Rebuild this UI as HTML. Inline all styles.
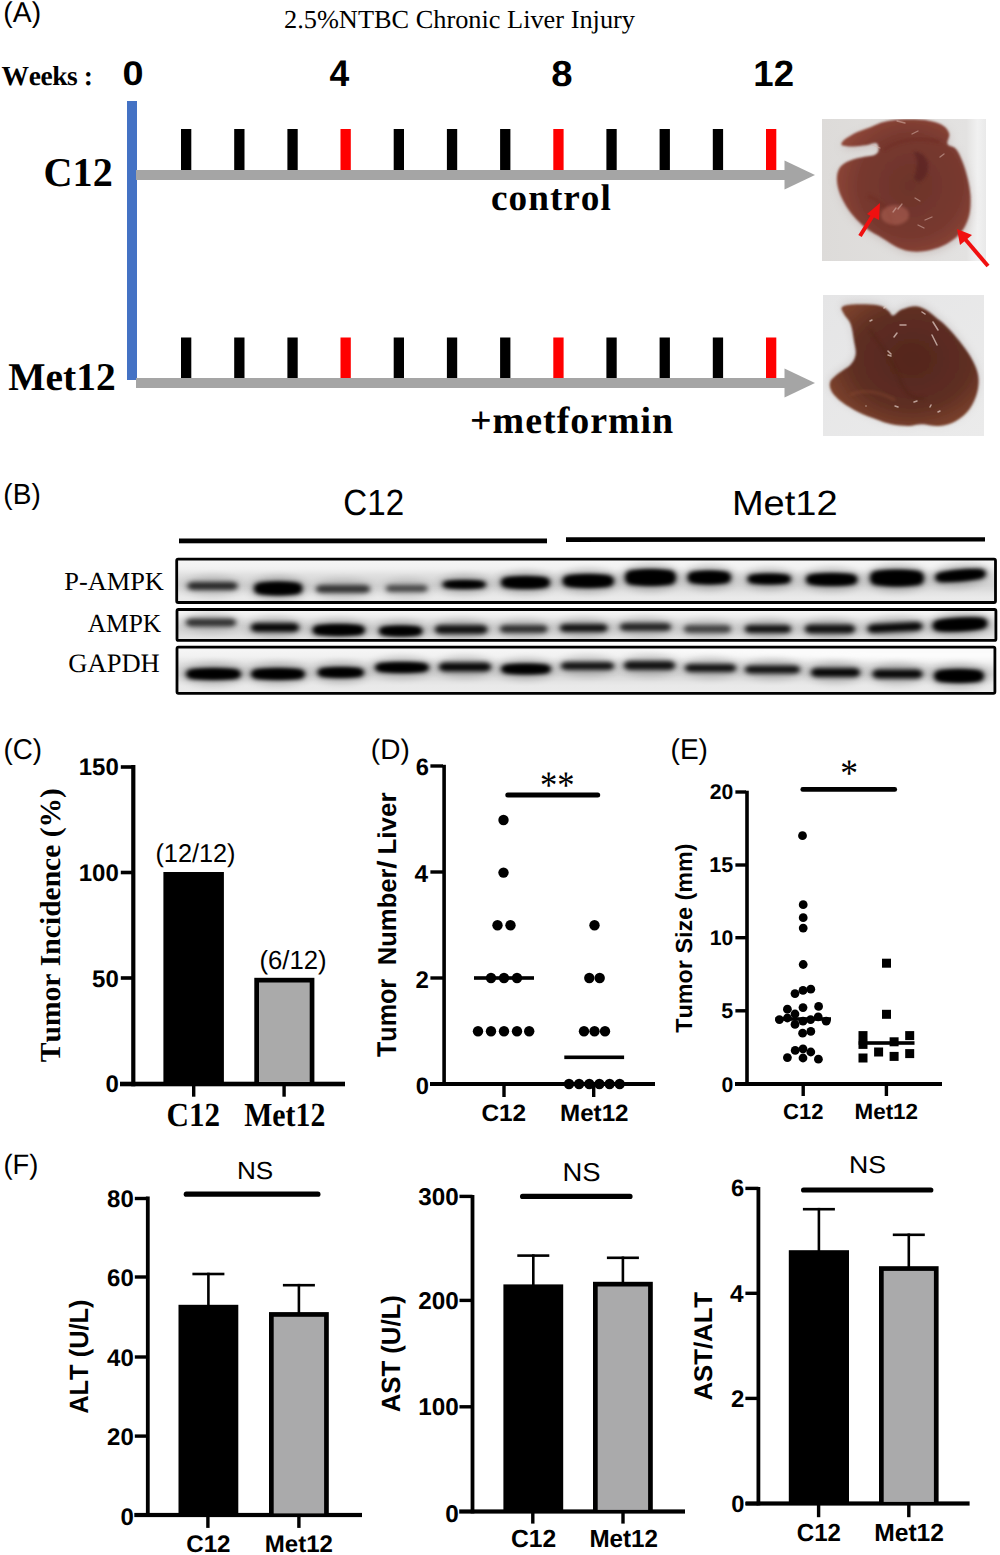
<!DOCTYPE html>
<html><head><meta charset="utf-8"><style>
html,body{margin:0;padding:0;background:#fff;width:1000px;height:1555px;overflow:hidden}
svg{display:block}
text{font-kerning:none;text-rendering:geometricPrecision}
</style></head><body>
<svg width="1000" height="1555" viewBox="0 0 1000 1555">
<defs>
<filter id="soft" x="-10%" y="-10%" width="120%" height="120%"><feGaussianBlur stdDeviation="1.2"/></filter>
<filter id="blur3" x="-50%" y="-50%" width="200%" height="200%"><feGaussianBlur stdDeviation="3"/></filter>
<filter id="band" x="-30%" y="-100%" width="160%" height="300%"><feGaussianBlur stdDeviation="2.4 2"/></filter>
<filter id="band2" x="-30%" y="-100%" width="160%" height="300%"><feGaussianBlur stdDeviation="5 3.5"/></filter>
</defs>
<rect width="1000" height="1555" fill="#fff"/>
<text transform="translate(3.35,21.97) scale(0.9871,1)" style="font-family:'Liberation Sans', sans-serif;font-weight:normal;font-size:28.66px" fill="#000">(A)</text>
<text transform="translate(284.04,27.50) scale(1.0143,1)" style="font-family:'Liberation Serif', serif;font-weight:normal;font-size:25.96px" fill="#000">2.5%NTBC Chronic Liver Injury</text>
<text transform="translate(1.61,84.50) scale(1.0000,1)" style="font-family:'Liberation Serif', serif;font-weight:bold;font-size:27.49px" fill="#000" letter-spacing="-0.427">Weeks :</text>
<text transform="translate(122.50,84.67) scale(1.1165,1)" style="font-family:'Liberation Sans', sans-serif;font-weight:bold;font-size:33.90px" fill="#000">0</text>
<text transform="translate(329.46,85.50) scale(0.9570,1)" style="font-family:'Liberation Sans', sans-serif;font-weight:bold;font-size:37.06px" fill="#000">4</text>
<text transform="translate(551.28,85.65) scale(1.0630,1)" style="font-family:'Liberation Sans', sans-serif;font-weight:bold;font-size:36.02px" fill="#000">8</text>
<text transform="translate(753.30,86.00) scale(1.0011,1)" style="font-family:'Liberation Sans', sans-serif;font-weight:bold;font-size:36.52px" fill="#000">12</text>
<rect x="127" y="101" width="10" height="279" fill="#4472c4"/>
<rect x="136" y="170" width="650" height="10" fill="#a5a5a5"/>
<polygon points="784.5,160.5 815,175 784.5,189.5" fill="#a5a5a5"/>
<rect x="181.0" y="129" width="10.3" height="41" fill="#000"/>
<rect x="234.2" y="129" width="10.3" height="41" fill="#000"/>
<rect x="287.4" y="129" width="10.3" height="41" fill="#000"/>
<rect x="340.5" y="129" width="10.3" height="41" fill="#ff0000"/>
<rect x="393.7" y="129" width="10.3" height="41" fill="#000"/>
<rect x="446.9" y="129" width="10.3" height="41" fill="#000"/>
<rect x="500.1" y="129" width="10.3" height="41" fill="#000"/>
<rect x="553.3" y="129" width="10.3" height="41" fill="#ff0000"/>
<rect x="606.4" y="129" width="10.3" height="41" fill="#000"/>
<rect x="659.6" y="129" width="10.3" height="41" fill="#000"/>
<rect x="712.8" y="129" width="10.3" height="41" fill="#000"/>
<rect x="766.0" y="129" width="10.3" height="41" fill="#ff0000"/>
<rect x="136" y="378" width="650" height="10" fill="#a5a5a5"/>
<polygon points="784.5,368.5 815,383 784.5,397.5" fill="#a5a5a5"/>
<rect x="181.0" y="337.5" width="10.3" height="40.5" fill="#000"/>
<rect x="234.2" y="337.5" width="10.3" height="40.5" fill="#000"/>
<rect x="287.4" y="337.5" width="10.3" height="40.5" fill="#000"/>
<rect x="340.5" y="337.5" width="10.3" height="40.5" fill="#ff0000"/>
<rect x="393.7" y="337.5" width="10.3" height="40.5" fill="#000"/>
<rect x="446.9" y="337.5" width="10.3" height="40.5" fill="#000"/>
<rect x="500.1" y="337.5" width="10.3" height="40.5" fill="#000"/>
<rect x="553.3" y="337.5" width="10.3" height="40.5" fill="#ff0000"/>
<rect x="606.4" y="337.5" width="10.3" height="40.5" fill="#000"/>
<rect x="659.6" y="337.5" width="10.3" height="40.5" fill="#000"/>
<rect x="712.8" y="337.5" width="10.3" height="40.5" fill="#000"/>
<rect x="766.0" y="337.5" width="10.3" height="40.5" fill="#ff0000"/>
<text transform="translate(43.54,185.50) scale(0.9852,1)" style="font-family:'Liberation Serif', serif;font-weight:bold;font-size:40.78px" fill="#000">C12</text>
<text transform="translate(8.33,389.50) scale(1.0035,1)" style="font-family:'Liberation Serif', serif;font-weight:bold;font-size:39.33px" fill="#000">Met12</text>
<text transform="translate(491.03,210.34) scale(1.0000,1)" style="font-family:'Liberation Serif', serif;font-weight:bold;font-size:37.24px" fill="#000" letter-spacing="1.011">control</text>
<text transform="translate(470.00,433.33) scale(1.0000,1)" style="font-family:'Liberation Serif', serif;font-weight:bold;font-size:37.96px" fill="#000" letter-spacing="0.975">+metformin</text>
<defs>
<radialGradient id="lg1" cx="0.55" cy="0.5" r="0.6"><stop offset="0" stop-color="#6c332b"/><stop offset="0.65" stop-color="#78392f"/><stop offset="1" stop-color="#904839"/></radialGradient>
<radialGradient id="lg2" cx="0.55" cy="0.45" r="0.6"><stop offset="0" stop-color="#54261e"/><stop offset="0.65" stop-color="#5e2e22"/><stop offset="1" stop-color="#7c422d"/></radialGradient>
<linearGradient id="pbg1" x1="0" y1="0" x2="1" y2="0"><stop offset="0" stop-color="#dddbd9"/><stop offset="0.88" stop-color="#e3e2e1"/><stop offset="0.95" stop-color="#f1f1f1"/><stop offset="1" stop-color="#e9e9e9"/></linearGradient>
<linearGradient id="pbg2" x1="0" y1="0" x2="1" y2="1"><stop offset="0" stop-color="#e5e5e6"/><stop offset="1" stop-color="#ebebeb"/></linearGradient>
<filter id="lb" x="-10%" y="-10%" width="120%" height="120%"><feGaussianBlur stdDeviation="0.9"/></filter>
<filter id="lb4" x="-20%" y="-20%" width="140%" height="140%"><feGaussianBlur stdDeviation="4"/></filter>
<filter id="lb2" x="-20%" y="-20%" width="140%" height="140%"><feGaussianBlur stdDeviation="1.6"/></filter>
<clipPath id="pc1"><rect x="822" y="119" width="164" height="142"/></clipPath>
<clipPath id="pc2"><rect x="823" y="295" width="161" height="141"/></clipPath>
</defs>
<rect x="822" y="119" width="164" height="142" fill="url(#pbg1)"/>
<g clip-path="url(#pc1)">
<path d="M841.3,144.2 C841.3,143.1 842.8,140.8 845.5,138.8 C848.2,136.8 853.2,134.0 857.4,132.0 C861.7,130.0 866.5,128.6 871.0,126.9 C875.5,125.2 878.9,123.1 884.6,121.8 C890.3,120.5 898.2,119.5 905.0,119.3 C911.8,119.0 919.2,119.1 925.4,120.1 C931.6,121.1 938.4,122.9 942.4,125.2 C946.4,127.5 948.4,130.6 949.2,133.7 C950.1,136.8 946.4,141.4 947.5,143.9 C948.6,146.5 953.5,145.9 956.0,149.0 C958.6,152.1 960.8,157.5 962.8,162.6 C964.8,167.7 966.6,173.9 967.9,179.6 C969.2,185.3 970.2,190.9 970.5,196.6 C970.7,202.3 970.6,208.5 969.6,213.6 C968.6,218.7 966.8,223.2 964.5,227.2 C962.2,231.2 959.7,234.3 956.0,237.4 C952.3,240.5 947.5,243.6 942.4,245.9 C937.3,248.2 931.1,250.2 925.4,251.0 C919.7,251.9 913.5,251.9 908.4,251.0 C903.3,250.2 899.3,248.2 894.8,245.9 C890.3,243.6 885.5,240.0 881.2,237.4 C877.0,234.9 873.0,233.2 869.3,230.6 C865.6,228.1 862.5,225.5 859.1,222.1 C855.7,218.7 852.0,214.7 848.9,210.2 C845.8,205.7 842.4,199.7 840.4,194.9 C838.4,190.1 837.3,185.6 837.0,181.3 C836.7,177.1 837.0,172.7 838.7,169.4 C840.4,166.1 843.5,163.7 847.2,161.8 C850.9,159.8 856.3,158.6 860.8,157.5 C865.3,156.4 871.4,156.2 874.4,155.0 C877.4,153.7 878.4,151.8 878.7,149.9 C878.9,147.9 878.2,143.8 876.1,143.1 C874.0,142.3 869.6,144.7 865.9,145.3 C862.2,145.8 857.4,146.3 854.0,146.5 C850.6,146.6 847.6,146.3 845.5,145.9 C843.4,145.6 841.3,145.4 841.3,144.2Z" fill="#b9a9a6" opacity="0.5" filter="url(#lb4)" transform="translate(1,3)"/>
<path d="M841.3,144.2 C841.3,143.1 842.8,140.8 845.5,138.8 C848.2,136.8 853.2,134.0 857.4,132.0 C861.7,130.0 866.5,128.6 871.0,126.9 C875.5,125.2 878.9,123.1 884.6,121.8 C890.3,120.5 898.2,119.5 905.0,119.3 C911.8,119.0 919.2,119.1 925.4,120.1 C931.6,121.1 938.4,122.9 942.4,125.2 C946.4,127.5 948.4,130.6 949.2,133.7 C950.1,136.8 946.4,141.4 947.5,143.9 C948.6,146.5 953.5,145.9 956.0,149.0 C958.6,152.1 960.8,157.5 962.8,162.6 C964.8,167.7 966.6,173.9 967.9,179.6 C969.2,185.3 970.2,190.9 970.5,196.6 C970.7,202.3 970.6,208.5 969.6,213.6 C968.6,218.7 966.8,223.2 964.5,227.2 C962.2,231.2 959.7,234.3 956.0,237.4 C952.3,240.5 947.5,243.6 942.4,245.9 C937.3,248.2 931.1,250.2 925.4,251.0 C919.7,251.9 913.5,251.9 908.4,251.0 C903.3,250.2 899.3,248.2 894.8,245.9 C890.3,243.6 885.5,240.0 881.2,237.4 C877.0,234.9 873.0,233.2 869.3,230.6 C865.6,228.1 862.5,225.5 859.1,222.1 C855.7,218.7 852.0,214.7 848.9,210.2 C845.8,205.7 842.4,199.7 840.4,194.9 C838.4,190.1 837.3,185.6 837.0,181.3 C836.7,177.1 837.0,172.7 838.7,169.4 C840.4,166.1 843.5,163.7 847.2,161.8 C850.9,159.8 856.3,158.6 860.8,157.5 C865.3,156.4 871.4,156.2 874.4,155.0 C877.4,153.7 878.4,151.8 878.7,149.9 C878.9,147.9 878.2,143.8 876.1,143.1 C874.0,142.3 869.6,144.7 865.9,145.3 C862.2,145.8 857.4,146.3 854.0,146.5 C850.6,146.6 847.6,146.3 845.5,145.9 C843.4,145.6 841.3,145.4 841.3,144.2Z" fill="url(#lg1)" filter="url(#lb)"/>
<path d="M913,152 C920,160 916,170 914,178 C918,186 926,180 928,170 C930,160 922,150 913,152Z" fill="#5a2320" opacity="0.7" filter="url(#lb2)"/>
<path d="M884,150 C896,140 920,136 940,142" stroke="#6e2a22" stroke-width="3" fill="none" opacity="0.6" filter="url(#lb2)"/>
<path d="M868,196 C880,200 890,210 892,225" stroke="#6e2a22" stroke-width="4" fill="none" opacity="0.5" filter="url(#lb2)"/>
<ellipse cx="895" cy="215" rx="14" ry="10" fill="#b7695a" opacity="0.5" filter="url(#lb2)"/>
<path d="M898,209 L902,204" stroke="#d9b5ad" stroke-width="1.3" stroke-linecap="round" opacity="0.55"/>
<path d="M893,212 L896,208" stroke="#d9b5ad" stroke-width="1.3" stroke-linecap="round" opacity="0.55"/>
<path d="M872,145 L880,148" stroke="#d9b5ad" stroke-width="1.3" stroke-linecap="round" opacity="0.55"/>
<path d="M915,198 L920,201" stroke="#d9b5ad" stroke-width="1.3" stroke-linecap="round" opacity="0.55"/>
<path d="M925,220 L932,217" stroke="#d9b5ad" stroke-width="1.3" stroke-linecap="round" opacity="0.55"/>
<path d="M918,225 L924,228" stroke="#d9b5ad" stroke-width="1.3" stroke-linecap="round" opacity="0.55"/>
<path d="M912,134 L918,131" stroke="#d9b5ad" stroke-width="1.3" stroke-linecap="round" opacity="0.55"/>
<path d="M940,157 L944,154" stroke="#d9b5ad" stroke-width="1.3" stroke-linecap="round" opacity="0.55"/>
<path d="M897,121 L905,123" stroke="#d9b5ad" stroke-width="1.3" stroke-linecap="round" opacity="0.55"/>
</g>
<line x1="860" y1="236" x2="875" y2="212" stroke="#f01010" stroke-width="4"/>
<polygon points="880,203 867,214 879,220" fill="#f01010"/>
<line x1="988" y1="266" x2="965" y2="239" stroke="#f01010" stroke-width="4"/>
<polygon points="957,229 960,245 972,235" fill="#f01010"/>
<rect x="823" y="295" width="161" height="141" fill="url(#pbg2)"/>
<g clip-path="url(#pc2)">
<path d="M842.1,307.0 C843.8,305.4 848.1,304.7 854.0,304.5 C860.0,304.2 872.1,304.3 877.8,305.3 C883.5,306.3 885.5,308.7 888.0,310.4 C890.6,312.1 890.8,315.6 893.1,315.5 C895.4,315.4 897.9,311.1 901.6,309.6 C905.3,308.0 911.2,306.2 915.2,306.2 C919.2,306.2 922.0,307.7 925.4,309.6 C928.8,311.4 932.2,314.5 935.6,317.2 C939.0,319.9 941.8,321.7 945.8,325.7 C949.8,329.7 955.2,335.6 959.4,341.0 C963.7,346.4 968.2,352.3 971.3,358.0 C974.4,363.7 977.1,369.3 978.1,375.0 C979.1,380.7 978.7,386.3 977.3,392.0 C975.8,397.7 973.2,404.2 969.6,409.0 C966.1,413.8 961.1,418.1 956.0,420.9 C950.9,423.7 944.7,425.4 939.0,426.0 C933.3,426.6 927.1,424.3 922.0,424.3 C916.9,424.3 913.5,426.0 908.4,426.0 C903.3,426.0 896.8,425.4 891.4,424.3 C886.0,423.2 881.5,421.2 876.1,419.2 C870.7,417.2 864.8,415.2 859.1,412.4 C853.4,409.6 846.6,405.6 842.1,402.2 C837.6,398.8 833.9,395.4 831.9,392.0 C829.9,388.6 829.1,384.9 830.2,381.8 C831.3,378.7 835.3,376.1 838.7,373.3 C842.1,370.5 847.8,367.9 850.6,364.8 C853.4,361.7 855.1,358.6 855.7,354.6 C856.3,350.6 854.9,346.1 854.0,341.0 C853.2,335.9 852.3,328.5 850.6,324.0 C848.9,319.5 845.2,316.6 843.8,313.8 C842.4,311.0 840.4,308.6 842.1,307.0Z" fill="#b0a8a6" opacity="0.45" filter="url(#lb4)" transform="translate(0,-2)"/>
<path d="M842.1,307.0 C843.8,305.4 848.1,304.7 854.0,304.5 C860.0,304.2 872.1,304.3 877.8,305.3 C883.5,306.3 885.5,308.7 888.0,310.4 C890.6,312.1 890.8,315.6 893.1,315.5 C895.4,315.4 897.9,311.1 901.6,309.6 C905.3,308.0 911.2,306.2 915.2,306.2 C919.2,306.2 922.0,307.7 925.4,309.6 C928.8,311.4 932.2,314.5 935.6,317.2 C939.0,319.9 941.8,321.7 945.8,325.7 C949.8,329.7 955.2,335.6 959.4,341.0 C963.7,346.4 968.2,352.3 971.3,358.0 C974.4,363.7 977.1,369.3 978.1,375.0 C979.1,380.7 978.7,386.3 977.3,392.0 C975.8,397.7 973.2,404.2 969.6,409.0 C966.1,413.8 961.1,418.1 956.0,420.9 C950.9,423.7 944.7,425.4 939.0,426.0 C933.3,426.6 927.1,424.3 922.0,424.3 C916.9,424.3 913.5,426.0 908.4,426.0 C903.3,426.0 896.8,425.4 891.4,424.3 C886.0,423.2 881.5,421.2 876.1,419.2 C870.7,417.2 864.8,415.2 859.1,412.4 C853.4,409.6 846.6,405.6 842.1,402.2 C837.6,398.8 833.9,395.4 831.9,392.0 C829.9,388.6 829.1,384.9 830.2,381.8 C831.3,378.7 835.3,376.1 838.7,373.3 C842.1,370.5 847.8,367.9 850.6,364.8 C853.4,361.7 855.1,358.6 855.7,354.6 C856.3,350.6 854.9,346.1 854.0,341.0 C853.2,335.9 852.3,328.5 850.6,324.0 C848.9,319.5 845.2,316.6 843.8,313.8 C842.4,311.0 840.4,308.6 842.1,307.0Z" fill="url(#lg2)" filter="url(#lb)"/>
<path d="M870,330 C880,345 890,355 900,380 C905,395 915,400 925,398" stroke="#4f2212" stroke-width="3" fill="none" opacity="0.5" filter="url(#lb2)"/>
<path d="M850,395 C865,388 880,392 895,400" stroke="#8a4a30" stroke-width="2" fill="none" opacity="0.6" filter="url(#lb2)"/>
<path d="M884,308 L886,306" stroke="#e6d2cb" stroke-width="1.5" stroke-linecap="round" opacity="0.7"/>
<path d="M870,321 L872,320" stroke="#e6d2cb" stroke-width="1.5" stroke-linecap="round" opacity="0.7"/>
<path d="M900,325 L906,325" stroke="#e6d2cb" stroke-width="1.5" stroke-linecap="round" opacity="0.7"/>
<path d="M894,337 L897,333" stroke="#e6d2cb" stroke-width="1.5" stroke-linecap="round" opacity="0.7"/>
<path d="M888,351 L891,354" stroke="#e6d2cb" stroke-width="1.5" stroke-linecap="round" opacity="0.7"/>
<path d="M888,355 L891,356" stroke="#e6d2cb" stroke-width="1.5" stroke-linecap="round" opacity="0.7"/>
<path d="M922,312 L925,314" stroke="#e6d2cb" stroke-width="1.5" stroke-linecap="round" opacity="0.7"/>
<path d="M933,322 L938,330" stroke="#e6d2cb" stroke-width="1.5" stroke-linecap="round" opacity="0.7"/>
<path d="M932,335 L937,345" stroke="#e6d2cb" stroke-width="1.5" stroke-linecap="round" opacity="0.7"/>
<path d="M866,406 L866,406" stroke="#e6d2cb" stroke-width="1.5" stroke-linecap="round" opacity="0.7"/>
<path d="M895,406 L898,407" stroke="#e6d2cb" stroke-width="1.5" stroke-linecap="round" opacity="0.7"/>
<path d="M914,402 L917,401" stroke="#e6d2cb" stroke-width="1.5" stroke-linecap="round" opacity="0.7"/>
<path d="M930,407 L931,405" stroke="#e6d2cb" stroke-width="1.5" stroke-linecap="round" opacity="0.7"/>
<path d="M938,412 L940,411" stroke="#e6d2cb" stroke-width="1.5" stroke-linecap="round" opacity="0.7"/>
</g>
<text transform="translate(3.36,503.80) scale(0.9675,1)" style="font-family:'Liberation Sans', sans-serif;font-weight:normal;font-size:28.98px" fill="#000">(B)</text>
<text transform="translate(343.32,515.44) scale(0.9103,1)" style="font-family:'Liberation Sans', sans-serif;font-weight:normal;font-size:36.44px" fill="#000">C12</text>
<text transform="translate(731.88,515.46) scale(1.0861,1)" style="font-family:'Liberation Sans', sans-serif;font-weight:normal;font-size:35.03px" fill="#000">Met12</text>
<rect x="179" y="538.5" width="368" height="4.8" fill="#000"/>
<polygon points="566,537.2 985,537.2 985,541.6 566,542" fill="#000"/>
<text transform="translate(64.24,590.00) scale(1.0155,1)" style="font-family:'Liberation Serif', serif;font-weight:normal;font-size:25.96px" fill="#000">P-AMPK</text>
<text transform="translate(87.75,632.00) scale(0.9798,1)" style="font-family:'Liberation Serif', serif;font-weight:normal;font-size:25.96px" fill="#000">AMPK</text>
<text transform="translate(68.31,672.40) scale(0.9992,1)" style="font-family:'Liberation Serif', serif;font-weight:normal;font-size:26.57px" fill="#000">GAPDH</text>
<defs>
<clipPath id="c1"><rect x="176.7" y="559.2" width="818.8000000000001" height="43.299999999999976"/></clipPath>
<clipPath id="c2"><rect x="177" y="609.5" width="818.9" height="30.9"/></clipPath>
<clipPath id="c3"><rect x="177" y="647.2" width="817.9" height="46.09999999999993"/></clipPath>
<linearGradient id="bg1" x1="0" y1="0" x2="0" y2="1"><stop offset="0" stop-color="#f7f7f7"/><stop offset="0.25" stop-color="#f0f0f0"/><stop offset="0.6" stop-color="#e6e6e6"/><stop offset="1" stop-color="#ebebeb"/></linearGradient>
</defs>
<rect x="176.7" y="559.2" width="818.8000000000001" height="43.299999999999976" fill="url(#bg1)"/>
<g clip-path="url(#c1)">
<rect x="170" y="573.1" width="840" height="18" fill="#000" opacity="0.07" filter="url(#band2)"/>
<g transform="rotate(0 212.5 586.0)">
<ellipse cx="212.5" cy="586.0" rx="29.0" ry="10.0" fill="#000" opacity="0.16" filter="url(#band2)"/>
<path d="M187.5,586.0 C187.5,581.6 193.5,582.0 202.5,582.0 L222.5,582.0 C231.5,582.0 237.5,581.6 237.5,586.0 C237.5,590.4 231.5,590.0 222.5,590.0 L202.5,590.0 C193.5,590.0 187.5,590.4 187.5,586.0Z" fill="#000" opacity="0.76" filter="url(#band)"/>
</g>
<g transform="rotate(0 278.2 588.5)">
<ellipse cx="278.2" cy="588.5" rx="28.2" ry="12.0" fill="#000" opacity="0.22" filter="url(#band2)"/>
<path d="M254.0,588.5 C254.0,581.9 259.8,582.5 268.6,582.5 L287.9,582.5 C296.7,582.5 302.5,581.9 302.5,588.5 C302.5,595.1 296.7,594.5 287.9,594.5 L268.6,594.5 C259.8,594.5 254.0,595.1 254.0,588.5Z" fill="#000" opacity="1.00" filter="url(#band)"/>
<ellipse cx="278.2" cy="588.5" rx="20.2" ry="6.0" fill="#000" filter="url(#band)"/>
</g>
<g transform="rotate(0 343.0 589.0)">
<ellipse cx="343.0" cy="589.0" rx="31.0" ry="10.0" fill="#000" opacity="0.15" filter="url(#band2)"/>
<path d="M316.0,589.0 C316.0,584.6 322.5,585.0 332.2,585.0 L353.8,585.0 C363.5,585.0 370.0,584.6 370.0,589.0 C370.0,593.4 363.5,593.0 353.8,593.0 L332.2,593.0 C322.5,593.0 316.0,593.4 316.0,589.0Z" fill="#000" opacity="0.71" filter="url(#band)"/>
</g>
<g transform="rotate(0 406.8 588.5)">
<ellipse cx="406.8" cy="588.5" rx="24.8" ry="9.5" fill="#000" opacity="0.13" filter="url(#band2)"/>
<path d="M386.0,588.5 C386.0,584.6 391.0,585.0 398.4,585.0 L415.1,585.0 C422.5,585.0 427.5,584.6 427.5,588.5 C427.5,592.4 422.5,592.0 415.1,592.0 L398.4,592.0 C391.0,592.0 386.0,592.4 386.0,588.5Z" fill="#000" opacity="0.61" filter="url(#band)"/>
</g>
<g transform="rotate(0 464.2 584.5)">
<ellipse cx="464.2" cy="584.5" rx="25.8" ry="9.5" fill="#000" opacity="0.21" filter="url(#band2)"/>
<path d="M442.5,584.5 C442.5,580.6 447.7,581.0 455.6,581.0 L472.9,581.0 C480.8,581.0 486.0,580.6 486.0,584.5 C486.0,588.4 480.8,588.0 472.9,588.0 L455.6,588.0 C447.7,588.0 442.5,588.4 442.5,584.5Z" fill="#000" opacity="1.00" filter="url(#band)"/>
<ellipse cx="464.2" cy="584.5" rx="17.8" ry="3.5" fill="#000" filter="url(#band)"/>
</g>
<g transform="rotate(0 525.5 582.5)">
<ellipse cx="525.5" cy="582.5" rx="28.5" ry="11.5" fill="#000" opacity="0.22" filter="url(#band2)"/>
<path d="M501.0,582.5 C501.0,576.5 506.9,577.0 515.7,577.0 L535.3,577.0 C544.1,577.0 550.0,576.5 550.0,582.5 C550.0,588.5 544.1,588.0 535.3,588.0 L515.7,588.0 C506.9,588.0 501.0,588.5 501.0,582.5Z" fill="#000" opacity="1.00" filter="url(#band)"/>
<ellipse cx="525.5" cy="582.5" rx="20.5" ry="5.5" fill="#000" filter="url(#band)"/>
</g>
<g transform="rotate(0 588.2 581.0)">
<ellipse cx="588.2" cy="581.0" rx="29.8" ry="12.0" fill="#000" opacity="0.22" filter="url(#band2)"/>
<path d="M562.5,581.0 C562.5,574.4 568.7,575.0 578.0,575.0 L598.5,575.0 C607.8,575.0 614.0,574.4 614.0,581.0 C614.0,587.6 607.8,587.0 598.5,587.0 L578.0,587.0 C568.7,587.0 562.5,587.6 562.5,581.0Z" fill="#000" opacity="1.00" filter="url(#band)"/>
<ellipse cx="588.2" cy="581.0" rx="21.8" ry="6.0" fill="#000" filter="url(#band)"/>
</g>
<g transform="rotate(0 650.5 577.5)">
<ellipse cx="650.5" cy="577.5" rx="29.5" ry="13.5" fill="#000" opacity="0.22" filter="url(#band2)"/>
<path d="M625.0,577.5 C625.0,569.2 631.1,570.0 640.3,570.0 L660.7,570.0 C669.9,570.0 676.0,569.2 676.0,577.5 C676.0,585.8 669.9,585.0 660.7,585.0 L640.3,585.0 C631.1,585.0 625.0,585.8 625.0,577.5Z" fill="#000" opacity="1.00" filter="url(#band)"/>
<ellipse cx="650.5" cy="577.5" rx="21.5" ry="7.5" fill="#000" filter="url(#band)"/>
</g>
<g transform="rotate(0 709.2 577.5)">
<ellipse cx="709.2" cy="577.5" rx="25.8" ry="12.0" fill="#000" opacity="0.22" filter="url(#band2)"/>
<path d="M687.5,577.5 C687.5,570.9 692.7,571.5 700.5,571.5 L718.0,571.5 C725.8,571.5 731.0,570.9 731.0,577.5 C731.0,584.1 725.8,583.5 718.0,583.5 L700.5,583.5 C692.7,583.5 687.5,584.1 687.5,577.5Z" fill="#000" opacity="1.00" filter="url(#band)"/>
<ellipse cx="709.2" cy="577.5" rx="17.8" ry="6.0" fill="#000" filter="url(#band)"/>
</g>
<g transform="rotate(0 769.2 579.0)">
<ellipse cx="769.2" cy="579.0" rx="25.8" ry="10.5" fill="#000" opacity="0.22" filter="url(#band2)"/>
<path d="M747.5,579.0 C747.5,574.0 752.7,574.5 760.5,574.5 L778.0,574.5 C785.8,574.5 791.0,574.0 791.0,579.0 C791.0,584.0 785.8,583.5 778.0,583.5 L760.5,583.5 C752.7,583.5 747.5,584.0 747.5,579.0Z" fill="#000" opacity="1.00" filter="url(#band)"/>
<ellipse cx="769.2" cy="579.0" rx="17.8" ry="4.5" fill="#000" filter="url(#band)"/>
</g>
<g transform="rotate(0 831.8 579.5)">
<ellipse cx="831.8" cy="579.5" rx="29.8" ry="11.5" fill="#000" opacity="0.22" filter="url(#band2)"/>
<path d="M806.0,579.5 C806.0,573.5 812.2,574.0 821.5,574.0 L842.0,574.0 C851.3,574.0 857.5,573.5 857.5,579.5 C857.5,585.5 851.3,585.0 842.0,585.0 L821.5,585.0 C812.2,585.0 806.0,585.5 806.0,579.5Z" fill="#000" opacity="1.00" filter="url(#band)"/>
<ellipse cx="831.8" cy="579.5" rx="21.8" ry="5.5" fill="#000" filter="url(#band)"/>
</g>
<g transform="rotate(0 897.0 578.0)">
<ellipse cx="897.0" cy="578.0" rx="31.0" ry="13.5" fill="#000" opacity="0.22" filter="url(#band2)"/>
<path d="M870.0,578.0 C870.0,569.8 876.5,570.5 886.2,570.5 L907.8,570.5 C917.5,570.5 924.0,569.8 924.0,578.0 C924.0,586.2 917.5,585.5 907.8,585.5 L886.2,585.5 C876.5,585.5 870.0,586.2 870.0,578.0Z" fill="#000" opacity="1.00" filter="url(#band)"/>
<ellipse cx="897.0" cy="578.0" rx="23.0" ry="7.5" fill="#000" filter="url(#band)"/>
</g>
<g transform="rotate(-5 960.5 575.5)">
<ellipse cx="960.5" cy="575.5" rx="29.5" ry="11.0" fill="#000" opacity="0.22" filter="url(#band2)"/>
<path d="M935.0,575.5 C935.0,570.0 941.1,570.5 950.3,570.5 L970.7,570.5 C979.9,570.5 986.0,570.0 986.0,575.5 C986.0,581.0 979.9,580.5 970.7,580.5 L950.3,580.5 C941.1,580.5 935.0,581.0 935.0,575.5Z" fill="#000" opacity="1.00" filter="url(#band)"/>
<ellipse cx="960.5" cy="575.5" rx="21.5" ry="5.0" fill="#000" filter="url(#band)"/>
</g>
</g>
<rect x="176.7" y="559.2" width="818.8000000000001" height="43.299999999999976" fill="none" stroke="#000" stroke-width="2.8" rx="1.5"/>
<rect x="177" y="609.5" width="818.9" height="30.9" fill="url(#bg1)"/>
<g clip-path="url(#c2)">
<rect x="170" y="619.0" width="840" height="18" fill="#000" opacity="0.07" filter="url(#band2)"/>
<g transform="rotate(0 211.0 622.5)">
<ellipse cx="211.0" cy="622.5" rx="29.0" ry="10.0" fill="#000" opacity="0.15" filter="url(#band2)"/>
<path d="M186.0,622.5 C186.0,618.1 192.0,618.5 201.0,618.5 L221.0,618.5 C230.0,618.5 236.0,618.1 236.0,622.5 C236.0,626.9 230.0,626.5 221.0,626.5 L201.0,626.5 C192.0,626.5 186.0,626.9 186.0,622.5Z" fill="#000" opacity="0.73" filter="url(#band)"/>
</g>
<g transform="rotate(0 275.0 627.5)">
<ellipse cx="275.0" cy="627.5" rx="28.0" ry="10.5" fill="#000" opacity="0.20" filter="url(#band2)"/>
<path d="M251.0,627.5 C251.0,622.5 256.8,623.0 265.4,623.0 L284.6,623.0 C293.2,623.0 299.0,622.5 299.0,627.5 C299.0,632.5 293.2,632.0 284.6,632.0 L265.4,632.0 C256.8,632.0 251.0,632.5 251.0,627.5Z" fill="#000" opacity="0.95" filter="url(#band)"/>
</g>
<g transform="rotate(0 338.8 630.0)">
<ellipse cx="338.8" cy="630.0" rx="30.2" ry="11.0" fill="#000" opacity="0.21" filter="url(#band2)"/>
<path d="M312.5,630.0 C312.5,624.5 318.8,625.0 328.2,625.0 L349.2,625.0 C358.7,625.0 365.0,624.5 365.0,630.0 C365.0,635.5 358.7,635.0 349.2,635.0 L328.2,635.0 C318.8,635.0 312.5,635.5 312.5,630.0Z" fill="#000" opacity="1.00" filter="url(#band)"/>
<ellipse cx="338.8" cy="630.0" rx="22.2" ry="5.0" fill="#000" filter="url(#band)"/>
</g>
<g transform="rotate(0 400.8 631.0)">
<ellipse cx="400.8" cy="631.0" rx="25.8" ry="10.5" fill="#000" opacity="0.21" filter="url(#band2)"/>
<path d="M379.0,631.0 C379.0,626.0 384.2,626.5 392.1,626.5 L409.4,626.5 C417.3,626.5 422.5,626.0 422.5,631.0 C422.5,636.0 417.3,635.5 409.4,635.5 L392.1,635.5 C384.2,635.5 379.0,636.0 379.0,631.0Z" fill="#000" opacity="1.00" filter="url(#band)"/>
<ellipse cx="400.8" cy="631.0" rx="17.8" ry="4.5" fill="#000" filter="url(#band)"/>
</g>
<g transform="rotate(0 461.2 629.5)">
<ellipse cx="461.2" cy="629.5" rx="30.2" ry="10.5" fill="#000" opacity="0.19" filter="url(#band2)"/>
<path d="M435.0,629.5 C435.0,624.5 441.3,625.0 450.8,625.0 L471.8,625.0 C481.2,625.0 487.5,624.5 487.5,629.5 C487.5,634.5 481.2,634.0 471.8,634.0 L450.8,634.0 C441.3,634.0 435.0,634.5 435.0,629.5Z" fill="#000" opacity="0.89" filter="url(#band)"/>
</g>
<g transform="rotate(0 523.8 629.0)">
<ellipse cx="523.8" cy="629.0" rx="27.8" ry="10.0" fill="#000" opacity="0.15" filter="url(#band2)"/>
<path d="M500.0,629.0 C500.0,624.6 505.7,625.0 514.2,625.0 L533.2,625.0 C541.8,625.0 547.5,624.6 547.5,629.0 C547.5,633.4 541.8,633.0 533.2,633.0 L514.2,633.0 C505.7,633.0 500.0,633.4 500.0,629.0Z" fill="#000" opacity="0.73" filter="url(#band)"/>
</g>
<g transform="rotate(0 583.8 628.0)">
<ellipse cx="583.8" cy="628.0" rx="27.8" ry="10.0" fill="#000" opacity="0.19" filter="url(#band2)"/>
<path d="M560.0,628.0 C560.0,623.6 565.7,624.0 574.2,624.0 L593.2,624.0 C601.8,624.0 607.5,623.6 607.5,628.0 C607.5,632.4 601.8,632.0 593.2,632.0 L574.2,632.0 C565.7,632.0 560.0,632.4 560.0,628.0Z" fill="#000" opacity="0.89" filter="url(#band)"/>
</g>
<g transform="rotate(0 645.5 627.0)">
<ellipse cx="645.5" cy="627.0" rx="29.5" ry="10.0" fill="#000" opacity="0.17" filter="url(#band2)"/>
<path d="M620.0,627.0 C620.0,622.6 626.1,623.0 635.3,623.0 L655.7,623.0 C664.9,623.0 671.0,622.6 671.0,627.0 C671.0,631.4 664.9,631.0 655.7,631.0 L635.3,631.0 C626.1,631.0 620.0,631.4 620.0,627.0Z" fill="#000" opacity="0.79" filter="url(#band)"/>
</g>
<g transform="rotate(0 707.5 629.0)">
<ellipse cx="707.5" cy="629.0" rx="27.5" ry="10.0" fill="#000" opacity="0.13" filter="url(#band2)"/>
<path d="M684.0,629.0 C684.0,624.6 689.6,625.0 698.1,625.0 L716.9,625.0 C725.4,625.0 731.0,624.6 731.0,629.0 C731.0,633.4 725.4,633.0 716.9,633.0 L698.1,633.0 C689.6,633.0 684.0,633.4 684.0,629.0Z" fill="#000" opacity="0.63" filter="url(#band)"/>
</g>
<g transform="rotate(0 768.0 629.0)">
<ellipse cx="768.0" cy="629.0" rx="27.0" ry="10.0" fill="#000" opacity="0.19" filter="url(#band2)"/>
<path d="M745.0,629.0 C745.0,624.6 750.5,625.0 758.8,625.0 L777.2,625.0 C785.5,625.0 791.0,624.6 791.0,629.0 C791.0,633.4 785.5,633.0 777.2,633.0 L758.8,633.0 C750.5,633.0 745.0,633.4 745.0,629.0Z" fill="#000" opacity="0.89" filter="url(#band)"/>
</g>
<g transform="rotate(0 830.0 629.0)">
<ellipse cx="830.0" cy="629.0" rx="29.0" ry="10.5" fill="#000" opacity="0.19" filter="url(#band2)"/>
<path d="M805.0,629.0 C805.0,624.0 811.0,624.5 820.0,624.5 L840.0,624.5 C849.0,624.5 855.0,624.0 855.0,629.0 C855.0,634.0 849.0,633.5 840.0,633.5 L820.0,633.5 C811.0,633.5 805.0,634.0 805.0,629.0Z" fill="#000" opacity="0.89" filter="url(#band)"/>
</g>
<g transform="rotate(-3 895.0 627.5)">
<ellipse cx="895.0" cy="627.5" rx="31.5" ry="10.5" fill="#000" opacity="0.20" filter="url(#band2)"/>
<path d="M867.5,627.5 C867.5,622.5 874.1,623.0 884.0,623.0 L906.0,623.0 C915.9,623.0 922.5,622.5 922.5,627.5 C922.5,632.5 915.9,632.0 906.0,632.0 L884.0,632.0 C874.1,632.0 867.5,632.5 867.5,627.5Z" fill="#000" opacity="0.95" filter="url(#band)"/>
</g>
<g transform="rotate(-3 960.0 624.5)">
<ellipse cx="960.0" cy="624.5" rx="31.5" ry="12.0" fill="#000" opacity="0.22" filter="url(#band2)"/>
<path d="M932.5,624.5 C932.5,617.9 939.1,618.5 949.0,618.5 L971.0,618.5 C980.9,618.5 987.5,617.9 987.5,624.5 C987.5,631.1 980.9,630.5 971.0,630.5 L949.0,630.5 C939.1,630.5 932.5,631.1 932.5,624.5Z" fill="#000" opacity="1.00" filter="url(#band)"/>
<ellipse cx="960.0" cy="624.5" rx="23.5" ry="6.0" fill="#000" filter="url(#band)"/>
</g>
</g>
<rect x="177" y="609.5" width="818.9" height="30.9" fill="none" stroke="#000" stroke-width="2.8" rx="1.5"/>
<rect x="177" y="647.2" width="817.9" height="46.09999999999993" fill="url(#bg1)"/>
<g clip-path="url(#c3)"><polygon points="640,647 1000,647 1000,667 640,650" fill="#fcfcfc" filter="url(#blur3)"/></g>
<g clip-path="url(#c3)">
<rect x="170" y="661.4" width="840" height="18" fill="#000" opacity="0.07" filter="url(#band2)"/>
<g transform="rotate(0 213.5 674.0)">
<ellipse cx="213.5" cy="674.0" rx="31.5" ry="11.0" fill="#000" opacity="0.22" filter="url(#band2)"/>
<path d="M186.0,674.0 C186.0,668.5 192.6,669.0 202.5,669.0 L224.5,669.0 C234.4,669.0 241.0,668.5 241.0,674.0 C241.0,679.5 234.4,679.0 224.5,679.0 L202.5,679.0 C192.6,679.0 186.0,679.5 186.0,674.0Z" fill="#000" opacity="1.00" filter="url(#band)"/>
<ellipse cx="213.5" cy="674.0" rx="23.5" ry="5.0" fill="#000" filter="url(#band)"/>
</g>
<g transform="rotate(0 278.0 674.0)">
<ellipse cx="278.0" cy="674.0" rx="31.0" ry="11.0" fill="#000" opacity="0.22" filter="url(#band2)"/>
<path d="M251.0,674.0 C251.0,668.5 257.5,669.0 267.2,669.0 L288.8,669.0 C298.5,669.0 305.0,668.5 305.0,674.0 C305.0,679.5 298.5,679.0 288.8,679.0 L267.2,679.0 C257.5,679.0 251.0,679.5 251.0,674.0Z" fill="#000" opacity="1.00" filter="url(#band)"/>
<ellipse cx="278.0" cy="674.0" rx="23.0" ry="5.0" fill="#000" filter="url(#band)"/>
</g>
<g transform="rotate(0 340.8 672.5)">
<ellipse cx="340.8" cy="672.5" rx="27.2" ry="10.5" fill="#000" opacity="0.21" filter="url(#band2)"/>
<path d="M317.5,672.5 C317.5,667.5 323.1,668.0 331.4,668.0 L350.1,668.0 C358.4,668.0 364.0,667.5 364.0,672.5 C364.0,677.5 358.4,677.0 350.1,677.0 L331.4,677.0 C323.1,677.0 317.5,677.5 317.5,672.5Z" fill="#000" opacity="1.00" filter="url(#band)"/>
<ellipse cx="340.8" cy="672.5" rx="19.2" ry="4.5" fill="#000" filter="url(#band)"/>
</g>
<g transform="rotate(0 402.0 667.5)">
<ellipse cx="402.0" cy="667.5" rx="31.0" ry="10.5" fill="#000" opacity="0.21" filter="url(#band2)"/>
<path d="M375.0,667.5 C375.0,662.5 381.5,663.0 391.2,663.0 L412.8,663.0 C422.5,663.0 429.0,662.5 429.0,667.5 C429.0,672.5 422.5,672.0 412.8,672.0 L391.2,672.0 C381.5,672.0 375.0,672.5 375.0,667.5Z" fill="#000" opacity="1.00" filter="url(#band)"/>
<ellipse cx="402.0" cy="667.5" rx="23.0" ry="4.5" fill="#000" filter="url(#band)"/>
</g>
<g transform="rotate(0 465.0 667.0)">
<ellipse cx="465.0" cy="667.0" rx="30.0" ry="10.5" fill="#000" opacity="0.20" filter="url(#band2)"/>
<path d="M439.0,667.0 C439.0,662.0 445.2,662.5 454.6,662.5 L475.4,662.5 C484.8,662.5 491.0,662.0 491.0,667.0 C491.0,672.0 484.8,671.5 475.4,671.5 L454.6,671.5 C445.2,671.5 439.0,672.0 439.0,667.0Z" fill="#000" opacity="0.95" filter="url(#band)"/>
</g>
<g transform="rotate(0 526.0 669.0)">
<ellipse cx="526.0" cy="669.0" rx="29.0" ry="10.5" fill="#000" opacity="0.21" filter="url(#band2)"/>
<path d="M501.0,669.0 C501.0,664.0 507.0,664.5 516.0,664.5 L536.0,664.5 C545.0,664.5 551.0,664.0 551.0,669.0 C551.0,674.0 545.0,673.5 536.0,673.5 L516.0,673.5 C507.0,673.5 501.0,674.0 501.0,669.0Z" fill="#000" opacity="1.00" filter="url(#band)"/>
<ellipse cx="526.0" cy="669.0" rx="21.0" ry="4.5" fill="#000" filter="url(#band)"/>
</g>
<g transform="rotate(0 587.5 666.0)">
<ellipse cx="587.5" cy="666.0" rx="30.5" ry="10.0" fill="#000" opacity="0.19" filter="url(#band2)"/>
<path d="M561.0,666.0 C561.0,661.6 567.4,662.0 576.9,662.0 L598.1,662.0 C607.6,662.0 614.0,661.6 614.0,666.0 C614.0,670.4 607.6,670.0 598.1,670.0 L576.9,670.0 C567.4,670.0 561.0,670.4 561.0,666.0Z" fill="#000" opacity="0.89" filter="url(#band)"/>
</g>
<g transform="rotate(0 649.5 665.5)">
<ellipse cx="649.5" cy="665.5" rx="29.5" ry="10.5" fill="#000" opacity="0.19" filter="url(#band2)"/>
<path d="M624.0,665.5 C624.0,660.5 630.1,661.0 639.3,661.0 L659.7,661.0 C668.9,661.0 675.0,660.5 675.0,665.5 C675.0,670.5 668.9,670.0 659.7,670.0 L639.3,670.0 C630.1,670.0 624.0,670.5 624.0,665.5Z" fill="#000" opacity="0.89" filter="url(#band)"/>
</g>
<g transform="rotate(0 710.5 668.0)">
<ellipse cx="710.5" cy="668.0" rx="29.5" ry="10.0" fill="#000" opacity="0.19" filter="url(#band2)"/>
<path d="M685.0,668.0 C685.0,663.6 691.1,664.0 700.3,664.0 L720.7,664.0 C729.9,664.0 736.0,663.6 736.0,668.0 C736.0,672.4 729.9,672.0 720.7,672.0 L700.3,672.0 C691.1,672.0 685.0,672.4 685.0,668.0Z" fill="#000" opacity="0.89" filter="url(#band)"/>
</g>
<g transform="rotate(0 772.5 669.5)">
<ellipse cx="772.5" cy="669.5" rx="31.5" ry="10.0" fill="#000" opacity="0.19" filter="url(#band2)"/>
<path d="M745.0,669.5 C745.0,665.1 751.6,665.5 761.5,665.5 L783.5,665.5 C793.4,665.5 800.0,665.1 800.0,669.5 C800.0,673.9 793.4,673.5 783.5,673.5 L761.5,673.5 C751.6,673.5 745.0,673.9 745.0,669.5Z" fill="#000" opacity="0.89" filter="url(#band)"/>
</g>
<g transform="rotate(0 835.5 672.5)">
<ellipse cx="835.5" cy="672.5" rx="28.5" ry="10.5" fill="#000" opacity="0.20" filter="url(#band2)"/>
<path d="M811.0,672.5 C811.0,667.5 816.9,668.0 825.7,668.0 L845.3,668.0 C854.1,668.0 860.0,667.5 860.0,672.5 C860.0,677.5 854.1,677.0 845.3,677.0 L825.7,677.0 C816.9,677.0 811.0,677.5 811.0,672.5Z" fill="#000" opacity="0.95" filter="url(#band)"/>
</g>
<g transform="rotate(0 897.5 674.0)">
<ellipse cx="897.5" cy="674.0" rx="29.0" ry="10.5" fill="#000" opacity="0.20" filter="url(#band2)"/>
<path d="M872.5,674.0 C872.5,669.0 878.5,669.5 887.5,669.5 L907.5,669.5 C916.5,669.5 922.5,669.0 922.5,674.0 C922.5,679.0 916.5,678.5 907.5,678.5 L887.5,678.5 C878.5,678.5 872.5,679.0 872.5,674.0Z" fill="#000" opacity="0.95" filter="url(#band)"/>
</g>
<g transform="rotate(0 959.0 676.0)">
<ellipse cx="959.0" cy="676.0" rx="29.0" ry="12.0" fill="#000" opacity="0.22" filter="url(#band2)"/>
<path d="M934.0,676.0 C934.0,669.4 940.0,670.0 949.0,670.0 L969.0,670.0 C978.0,670.0 984.0,669.4 984.0,676.0 C984.0,682.6 978.0,682.0 969.0,682.0 L949.0,682.0 C940.0,682.0 934.0,682.6 934.0,676.0Z" fill="#000" opacity="1.00" filter="url(#band)"/>
<ellipse cx="959.0" cy="676.0" rx="21.0" ry="6.0" fill="#000" filter="url(#band)"/>
</g>
</g>
<rect x="177" y="647.2" width="817.9" height="46.09999999999993" fill="none" stroke="#000" stroke-width="2.8" rx="1.5"/>
<text transform="translate(3.38,758.77) scale(0.9688,1)" style="font-family:'Liberation Sans', sans-serif;font-weight:normal;font-size:28.66px" fill="#000">(C)</text>
<rect x="131.20" y="765.00" width="4.20" height="321.30" fill="#000"/>
<rect x="120.00" y="1081.70" width="225.00" height="4.60" fill="#000"/>
<rect x="120.80" y="765.20" width="12.20" height="3.60" fill="#000"/>
<rect x="120.80" y="870.70" width="12.20" height="3.60" fill="#000"/>
<rect x="120.80" y="976.20" width="12.20" height="3.60" fill="#000"/>
<text transform="translate(78.72,774.87) scale(1.0000,1)" style="font-family:'Liberation Sans', sans-serif;font-weight:bold;font-size:24.01px" fill="#000">150</text>
<text transform="translate(78.72,880.87) scale(1.0000,1)" style="font-family:'Liberation Sans', sans-serif;font-weight:bold;font-size:24.01px" fill="#000">100</text>
<text transform="translate(92.08,986.57) scale(1.0000,1)" style="font-family:'Liberation Sans', sans-serif;font-weight:bold;font-size:24.01px" fill="#000">50</text>
<text transform="translate(105.43,1092.47) scale(1.0000,1)" style="font-family:'Liberation Sans', sans-serif;font-weight:bold;font-size:24.01px" fill="#000">0</text>
<rect x="192.00" y="1084.00" width="3.40" height="12.70" fill="#000"/>
<rect x="282.40" y="1084.00" width="3.40" height="12.70" fill="#000"/>
<rect x="163.40" y="872.00" width="60.50" height="212.00" fill="#000"/>
<rect x="254.30" y="977.80" width="60.10" height="106.20" fill="#000"/>
<rect x="259.00" y="982.50" width="50.70" height="99.50" fill="#aaaaaa"/>
<text transform="translate(155.43,861.67) scale(0.9818,1)" style="font-family:'Liberation Sans', sans-serif;font-weight:normal;font-size:25.76px" fill="#000">(12/12)</text>
<text transform="translate(259.41,969.06) scale(0.9781,1)" style="font-family:'Liberation Sans', sans-serif;font-weight:normal;font-size:26.30px" fill="#000">(6/12)</text>
<text transform="translate(166.48,1125.80) scale(0.9214,1)" style="font-family:'Liberation Serif', serif;font-weight:bold;font-size:33.75px" fill="#000">C12</text>
<text transform="translate(244.19,1125.80) scale(0.8831,1)" style="font-family:'Liberation Serif', serif;font-weight:bold;font-size:33.75px" fill="#000">Met12</text>
<text transform="translate(60.33,1062.16) rotate(-90) scale(1.0189,1)" style="font-family:'Liberation Serif', serif;font-weight:bold;font-size:29.01px" fill="#000">Tumor Incidence (%)</text>
<text transform="translate(370.86,758.83) scale(0.9882,1)" style="font-family:'Liberation Sans', sans-serif;font-weight:normal;font-size:28.34px" fill="#000">(D)</text>
<rect x="442.30" y="764.80" width="3.60" height="321.20" fill="#000"/>
<rect x="430.00" y="1082.00" width="225.00" height="4.00" fill="#000"/>
<rect x="430.40" y="764.30" width="12.60" height="3.40" fill="#000"/>
<rect x="430.40" y="870.30" width="12.60" height="3.40" fill="#000"/>
<rect x="430.40" y="976.30" width="12.60" height="3.40" fill="#000"/>
<text transform="translate(415.66,775.07) scale(1.0000,1)" style="font-family:'Liberation Sans', sans-serif;font-weight:bold;font-size:23.73px" fill="#000">6</text>
<text transform="translate(414.55,881.90) scale(1.0000,1)" style="font-family:'Liberation Sans', sans-serif;font-weight:bold;font-size:24.42px" fill="#000">4</text>
<text transform="translate(415.58,987.90) scale(1.0000,1)" style="font-family:'Liberation Sans', sans-serif;font-weight:bold;font-size:24.06px" fill="#000">2</text>
<text transform="translate(415.78,1093.67) scale(1.0000,1)" style="font-family:'Liberation Sans', sans-serif;font-weight:bold;font-size:23.73px" fill="#000">0</text>
<rect x="502.30" y="1084.00" width="3.40" height="13.00" fill="#000"/>
<rect x="592.00" y="1084.00" width="3.40" height="13.00" fill="#000"/>
<text transform="translate(481.40,1120.77) scale(1.0287,1)" style="font-family:'Liberation Sans', sans-serif;font-weight:bold;font-size:23.73px" fill="#000">C12</text>
<text transform="translate(559.98,1120.77) scale(1.0198,1)" style="font-family:'Liberation Sans', sans-serif;font-weight:bold;font-size:23.73px" fill="#000">Met12</text>
<text transform="translate(396.33,1057.08) rotate(-90) scale(0.9239,1)" style="font-family:'Liberation Sans', sans-serif;font-weight:bold;font-size:27.23px" fill="#000">Tumor</text>
<text transform="translate(396.35,965.32) rotate(-90) scale(0.9913,1)" style="font-family:'Liberation Sans', sans-serif;font-weight:bold;font-size:25.87px" fill="#000">Number</text>
<text transform="translate(396.47,868.69) rotate(-90) scale(1.1121,1)" style="font-family:'Liberation Sans', sans-serif;font-weight:bold;font-size:26.46px" fill="#000">/</text>
<text transform="translate(396.35,854.54) rotate(-90) scale(1.0048,1)" style="font-family:'Liberation Sans', sans-serif;font-weight:bold;font-size:25.87px" fill="#000">Liver</text>
<line x1="507.8" y1="795" x2="597.7" y2="795" stroke="#000" stroke-width="5" stroke-linecap="round"/>
<text transform="translate(540.01,798.03) scale(0.8857,1)" style="font-family:'Liberation Serif', serif;font-weight:normal;font-size:39.00px" fill="#000">**</text>
<circle cx="503.5" cy="820.0" r="5.2" fill="#000"/>
<circle cx="503.5" cy="872.6" r="5.2" fill="#000"/>
<circle cx="497.5" cy="925.2" r="5.2" fill="#000"/>
<circle cx="510.5" cy="925.2" r="5.2" fill="#000"/>
<circle cx="594.5" cy="925.2" r="5.2" fill="#000"/>
<circle cx="491.0" cy="978.0" r="5.2" fill="#000"/>
<circle cx="504.0" cy="978.0" r="5.2" fill="#000"/>
<circle cx="517.0" cy="978.0" r="5.2" fill="#000"/>
<circle cx="589.3" cy="978.0" r="5.2" fill="#000"/>
<circle cx="599.7" cy="978.0" r="5.2" fill="#000"/>
<circle cx="478.0" cy="1031.3" r="5.2" fill="#000"/>
<circle cx="491.0" cy="1031.3" r="5.2" fill="#000"/>
<circle cx="504.0" cy="1031.3" r="5.2" fill="#000"/>
<circle cx="517.0" cy="1031.3" r="5.2" fill="#000"/>
<circle cx="529.2" cy="1031.3" r="5.2" fill="#000"/>
<circle cx="584.0" cy="1031.3" r="5.2" fill="#000"/>
<circle cx="594.5" cy="1031.3" r="5.2" fill="#000"/>
<circle cx="605.0" cy="1031.3" r="5.2" fill="#000"/>
<circle cx="569.0" cy="1084.0" r="5.2" fill="#000"/>
<circle cx="579.1" cy="1084.0" r="5.2" fill="#000"/>
<circle cx="589.3" cy="1084.0" r="5.2" fill="#000"/>
<circle cx="599.4" cy="1084.0" r="5.2" fill="#000"/>
<circle cx="609.6" cy="1084.0" r="5.2" fill="#000"/>
<circle cx="619.7" cy="1084.0" r="5.2" fill="#000"/>
<rect x="474.00" y="976.20" width="60.00" height="3.60" fill="#000"/>
<rect x="564.30" y="1055.50" width="59.80" height="3.60" fill="#000"/>
<text transform="translate(670.56,758.77) scale(0.9784,1)" style="font-family:'Liberation Sans', sans-serif;font-weight:normal;font-size:28.66px" fill="#000">(E)</text>
<rect x="745.20" y="790.70" width="3.60" height="295.30" fill="#000"/>
<rect x="735.00" y="1082.00" width="207.00" height="4.00" fill="#000"/>
<rect x="735.40" y="790.30" width="10.60" height="3.40" fill="#000"/>
<rect x="735.40" y="863.30" width="10.60" height="3.40" fill="#000"/>
<rect x="735.40" y="936.00" width="10.60" height="3.40" fill="#000"/>
<rect x="735.40" y="1009.10" width="10.60" height="3.40" fill="#000"/>
<text transform="translate(709.80,799.49) scale(1.0000,1)" style="font-family:'Liberation Sans', sans-serif;font-weight:bold;font-size:21.19px" fill="#000">20</text>
<text transform="translate(709.19,872.49) scale(1.0000,1)" style="font-family:'Liberation Sans', sans-serif;font-weight:bold;font-size:21.50px" fill="#000">15</text>
<text transform="translate(709.80,945.49) scale(1.0000,1)" style="font-family:'Liberation Sans', sans-serif;font-weight:bold;font-size:21.19px" fill="#000">10</text>
<text transform="translate(721.14,1018.49) scale(1.0000,1)" style="font-family:'Liberation Sans', sans-serif;font-weight:bold;font-size:21.50px" fill="#000">5</text>
<text transform="translate(721.59,1092.49) scale(1.0000,1)" style="font-family:'Liberation Sans', sans-serif;font-weight:bold;font-size:21.19px" fill="#000">0</text>
<rect x="801.50" y="1084.00" width="3.40" height="12.00" fill="#000"/>
<rect x="884.70" y="1084.00" width="3.40" height="12.00" fill="#000"/>
<text transform="translate(783.09,1118.78) scale(1.0043,1)" style="font-family:'Liberation Sans', sans-serif;font-weight:bold;font-size:22.03px" fill="#000">C12</text>
<text transform="translate(854.50,1118.78) scale(1.0183,1)" style="font-family:'Liberation Sans', sans-serif;font-weight:bold;font-size:22.03px" fill="#000">Met12</text>
<text transform="translate(692.17,1032.66) rotate(-90) scale(1.0025,1)" style="font-family:'Liberation Sans', sans-serif;font-weight:bold;font-size:23.28px" fill="#000">Tumor Size (mm)</text>
<line x1="802.7" y1="789.4" x2="894.8" y2="789.4" stroke="#000" stroke-width="4.6" stroke-linecap="round"/>
<text transform="translate(840.27,786.33) scale(0.9092,1)" style="font-family:'Liberation Serif', serif;font-weight:normal;font-size:39.00px" fill="#000">*</text>
<circle cx="802.5" cy="835.7" r="4.4" fill="#000"/>
<circle cx="803.2" cy="904.7" r="4.4" fill="#000"/>
<circle cx="803.2" cy="917.7" r="4.4" fill="#000"/>
<circle cx="803.2" cy="928.1" r="4.4" fill="#000"/>
<circle cx="803.2" cy="964.5" r="4.4" fill="#000"/>
<circle cx="795.0" cy="993.6" r="4.4" fill="#000"/>
<circle cx="803.0" cy="990.4" r="4.4" fill="#000"/>
<circle cx="810.8" cy="989.2" r="4.4" fill="#000"/>
<circle cx="787.4" cy="1009.2" r="4.4" fill="#000"/>
<circle cx="803.0" cy="1007.6" r="4.4" fill="#000"/>
<circle cx="818.6" cy="1006.4" r="4.4" fill="#000"/>
<circle cx="779.4" cy="1019.6" r="4.4" fill="#000"/>
<circle cx="787.4" cy="1018.0" r="4.4" fill="#000"/>
<circle cx="795.0" cy="1014.0" r="4.4" fill="#000"/>
<circle cx="803.0" cy="1021.2" r="4.4" fill="#000"/>
<circle cx="810.6" cy="1019.6" r="4.4" fill="#000"/>
<circle cx="818.2" cy="1016.8" r="4.4" fill="#000"/>
<circle cx="826.2" cy="1021.2" r="4.4" fill="#000"/>
<circle cx="795.0" cy="1024.4" r="4.4" fill="#000"/>
<circle cx="802.6" cy="1033.2" r="4.4" fill="#000"/>
<circle cx="810.8" cy="1031.4" r="4.4" fill="#000"/>
<circle cx="795.2" cy="1050.4" r="4.4" fill="#000"/>
<circle cx="803.0" cy="1048.8" r="4.4" fill="#000"/>
<circle cx="810.8" cy="1052.0" r="4.4" fill="#000"/>
<circle cx="787.4" cy="1057.6" r="4.4" fill="#000"/>
<circle cx="803.0" cy="1058.0" r="4.4" fill="#000"/>
<circle cx="818.4" cy="1059.2" r="4.4" fill="#000"/>
<rect x="775.40" y="1017.20" width="55.60" height="3.60" fill="#000"/>
<rect x="882.00" y="958.70" width="9.00" height="9.00" fill="#000"/>
<rect x="882.00" y="1009.80" width="9.00" height="9.00" fill="#000"/>
<rect x="858.50" y="1031.10" width="9.00" height="9.00" fill="#000"/>
<rect x="858.50" y="1039.90" width="9.00" height="9.00" fill="#000"/>
<rect x="874.10" y="1047.50" width="9.00" height="9.00" fill="#000"/>
<rect x="889.60" y="1037.30" width="9.00" height="9.00" fill="#000"/>
<rect x="889.60" y="1051.90" width="9.00" height="9.00" fill="#000"/>
<rect x="905.20" y="1031.10" width="9.00" height="9.00" fill="#000"/>
<rect x="905.20" y="1049.10" width="9.00" height="9.00" fill="#000"/>
<rect x="858.50" y="1053.50" width="9.00" height="9.00" fill="#000"/>
<rect x="858.60" y="1041.20" width="55.90" height="3.60" fill="#000"/>
<text transform="translate(3.41,1174.00) scale(0.9753,1)" style="font-family:'Liberation Sans', sans-serif;font-weight:normal;font-size:28.02px" fill="#000">(F)</text>
<rect x="145.90" y="1196.50" width="3.80" height="320.40" fill="#000"/>
<rect x="134.30" y="1512.90" width="227.70" height="4.20" fill="#000"/>
<rect x="134.80" y="1196.80" width="13.00" height="3.40" fill="#000"/>
<text transform="translate(107.08,1207.07) scale(1.0000,1)" style="font-family:'Liberation Sans', sans-serif;font-weight:bold;font-size:24.01px" fill="#000">80</text>
<rect x="134.80" y="1275.30" width="13.00" height="3.40" fill="#000"/>
<text transform="translate(107.08,1286.27) scale(1.0000,1)" style="font-family:'Liberation Sans', sans-serif;font-weight:bold;font-size:24.01px" fill="#000">60</text>
<rect x="134.80" y="1355.30" width="13.00" height="3.40" fill="#000"/>
<text transform="translate(107.08,1365.77) scale(1.0000,1)" style="font-family:'Liberation Sans', sans-serif;font-weight:bold;font-size:24.01px" fill="#000">40</text>
<rect x="134.80" y="1434.40" width="13.00" height="3.40" fill="#000"/>
<text transform="translate(107.08,1444.77) scale(1.0000,1)" style="font-family:'Liberation Sans', sans-serif;font-weight:bold;font-size:24.01px" fill="#000">20</text>
<text transform="translate(120.43,1524.77) scale(1.0000,1)" style="font-family:'Liberation Sans', sans-serif;font-weight:bold;font-size:24.01px" fill="#000">0</text>
<rect x="206.20" y="1514.90" width="3.40" height="13.00" fill="#000"/>
<rect x="297.20" y="1514.90" width="3.40" height="13.00" fill="#000"/>
<rect x="207.10" y="1272.70" width="2.60" height="34.10" fill="#000"/><rect x="192.40" y="1272.70" width="32.00" height="2.60" fill="#000"/>
<rect x="178.50" y="1304.80" width="59.80" height="210.10" fill="#000"/>
<rect x="297.60" y="1283.90" width="2.60" height="30.20" fill="#000"/><rect x="282.90" y="1283.90" width="32.00" height="2.60" fill="#000"/>
<rect x="269.00" y="1312.10" width="59.80" height="202.80" fill="#000"/>
<rect x="273.70" y="1316.80" width="50.40" height="196.60" fill="#aaaaab"/>
<line x1="186.3" y1="1194.2" x2="317.9" y2="1194.2" stroke="#000" stroke-width="5.2" stroke-linecap="round"/>
<text transform="translate(236.95,1178.86) scale(1.0647,1)" style="font-family:'Liberation Sans', sans-serif;font-weight:normal;font-size:24.58px" fill="#000">NS</text>
<text transform="translate(186.21,1552.27) scale(1.0131,1)" style="font-family:'Liberation Sans', sans-serif;font-weight:bold;font-size:23.87px" fill="#000">C12</text>
<text transform="translate(264.79,1552.27) scale(1.0076,1)" style="font-family:'Liberation Sans', sans-serif;font-weight:bold;font-size:23.87px" fill="#000">Met12</text>
<text transform="translate(88.12,1413.73) rotate(-90) scale(0.9627,1)" style="font-family:'Liberation Sans', sans-serif;font-weight:bold;font-size:26.39px" fill="#000">ALT (U/L)</text>
<rect x="470.60" y="1195.00" width="3.80" height="318.40" fill="#000"/>
<rect x="459.20" y="1509.40" width="225.80" height="4.20" fill="#000"/>
<rect x="459.50" y="1194.70" width="13.00" height="3.40" fill="#000"/>
<text transform="translate(418.35,1205.03) scale(1.0000,1)" style="font-family:'Liberation Sans', sans-serif;font-weight:bold;font-size:24.24px" fill="#000">300</text>
<rect x="459.50" y="1298.70" width="13.00" height="3.40" fill="#000"/>
<text transform="translate(418.26,1309.36) scale(1.0000,1)" style="font-family:'Liberation Sans', sans-serif;font-weight:bold;font-size:24.29px" fill="#000">200</text>
<rect x="459.50" y="1405.10" width="13.00" height="3.40" fill="#000"/>
<text transform="translate(418.26,1415.36) scale(1.0000,1)" style="font-family:'Liberation Sans', sans-serif;font-weight:bold;font-size:24.29px" fill="#000">100</text>
<text transform="translate(445.29,1521.56) scale(1.0000,1)" style="font-family:'Liberation Sans', sans-serif;font-weight:bold;font-size:24.29px" fill="#000">0</text>
<rect x="531.10" y="1511.40" width="3.40" height="12.20" fill="#000"/>
<rect x="621.30" y="1511.40" width="3.40" height="12.20" fill="#000"/>
<rect x="532.00" y="1254.30" width="2.60" height="32.10" fill="#000"/><rect x="517.30" y="1254.30" width="32.00" height="2.60" fill="#000"/>
<rect x="503.40" y="1284.40" width="59.80" height="227.00" fill="#000"/>
<rect x="621.60" y="1256.50" width="2.60" height="27.30" fill="#000"/><rect x="606.90" y="1256.50" width="32.00" height="2.60" fill="#000"/>
<rect x="593.00" y="1281.80" width="59.80" height="229.60" fill="#000"/>
<rect x="597.70" y="1286.50" width="50.40" height="223.40" fill="#aaaaab"/>
<line x1="522.6" y1="1196.4" x2="630.0" y2="1196.4" stroke="#000" stroke-width="5.2" stroke-linecap="round"/>
<text transform="translate(562.55,1180.75) scale(1.0672,1)" style="font-family:'Liberation Sans', sans-serif;font-weight:normal;font-size:25.71px" fill="#000">NS</text>
<text transform="translate(510.99,1547.36) scale(0.9911,1)" style="font-family:'Liberation Sans', sans-serif;font-weight:bold;font-size:24.86px" fill="#000">C12</text>
<text transform="translate(589.38,1547.36) scale(0.9734,1)" style="font-family:'Liberation Sans', sans-serif;font-weight:bold;font-size:24.86px" fill="#000">Met12</text>
<text transform="translate(400.22,1412.24) rotate(-90) scale(0.9744,1)" style="font-family:'Liberation Sans', sans-serif;font-weight:bold;font-size:26.39px" fill="#000">AST (U/L)</text>
<rect x="756.50" y="1187.00" width="3.80" height="318.40" fill="#000"/>
<rect x="745.60" y="1501.40" width="224.00" height="4.20" fill="#000"/>
<rect x="745.40" y="1186.70" width="13.00" height="3.40" fill="#000"/>
<text transform="translate(731.06,1196.17) scale(1.0000,1)" style="font-family:'Liberation Sans', sans-serif;font-weight:bold;font-size:23.73px" fill="#000">6</text>
<rect x="745.40" y="1291.60" width="13.00" height="3.40" fill="#000"/>
<text transform="translate(729.95,1301.70) scale(1.0000,1)" style="font-family:'Liberation Sans', sans-serif;font-weight:bold;font-size:24.42px" fill="#000">4</text>
<rect x="745.40" y="1396.70" width="13.00" height="3.40" fill="#000"/>
<text transform="translate(730.98,1407.00) scale(1.0000,1)" style="font-family:'Liberation Sans', sans-serif;font-weight:bold;font-size:24.06px" fill="#000">2</text>
<rect x="745.40" y="1501.90" width="13.00" height="3.40" fill="#000"/>
<text transform="translate(731.18,1511.77) scale(1.0000,1)" style="font-family:'Liberation Sans', sans-serif;font-weight:bold;font-size:23.73px" fill="#000">0</text>
<rect x="816.90" y="1503.40" width="3.40" height="13.80" fill="#000"/>
<rect x="907.10" y="1503.40" width="3.40" height="13.80" fill="#000"/>
<rect x="817.60" y="1207.90" width="2.60" height="44.30" fill="#000"/><rect x="802.90" y="1207.90" width="32.00" height="2.60" fill="#000"/>
<rect x="788.80" y="1250.20" width="60.20" height="253.20" fill="#000"/>
<rect x="907.50" y="1233.50" width="2.60" height="34.70" fill="#000"/><rect x="892.80" y="1233.50" width="32.00" height="2.60" fill="#000"/>
<rect x="879.00" y="1266.20" width="59.60" height="237.20" fill="#000"/>
<rect x="883.70" y="1270.90" width="50.20" height="231.00" fill="#aaaaab"/>
<line x1="803.6" y1="1190" x2="930.8" y2="1190" stroke="#000" stroke-width="5.2" stroke-linecap="round"/>
<text transform="translate(849.01,1172.76) scale(1.0966,1)" style="font-family:'Liberation Sans', sans-serif;font-weight:normal;font-size:24.29px" fill="#000">NS</text>
<text transform="translate(796.81,1540.96) scale(0.9682,1)" style="font-family:'Liberation Sans', sans-serif;font-weight:bold;font-size:24.86px" fill="#000">C12</text>
<text transform="translate(874.15,1540.96) scale(0.9911,1)" style="font-family:'Liberation Sans', sans-serif;font-weight:bold;font-size:24.86px" fill="#000">Met12</text>
<text transform="translate(712.49,1400.44) rotate(-90) scale(1.0074,1)" style="font-family:'Liberation Sans', sans-serif;font-weight:bold;font-size:25.52px" fill="#000">AST/ALT</text>
</svg>
</body></html>
